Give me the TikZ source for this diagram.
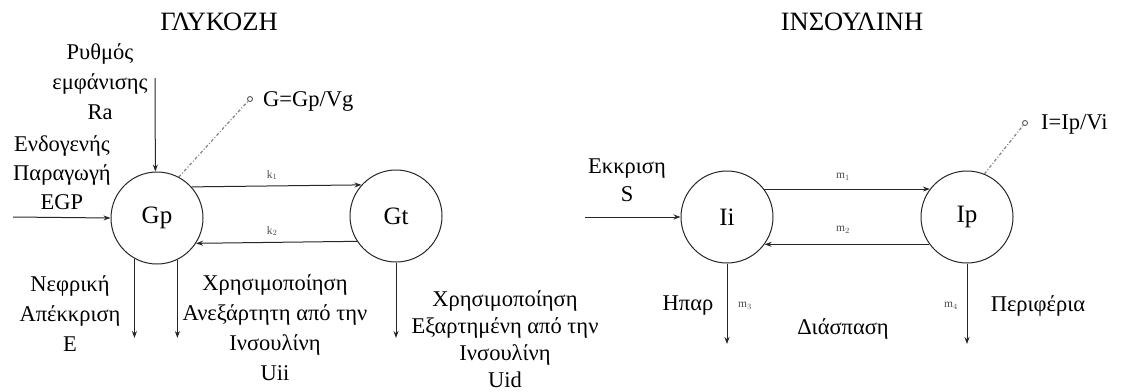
\documentclass[tikz,border=0pt]{standalone}
\usepackage{fontspec}
\setmainfont{Liberation Serif}
\usetikzlibrary{arrows.meta}
\tikzset{
  comp/.style={circle, draw=black!85, line width=1pt, minimum size=92pt, inner sep=0pt, font=\fontsize{25}{28}\selectfont},
  lbl/.style={align=center, inner sep=0pt, font=\fontsize{22.5}{30}\selectfont},
  lblb/.style={align=center, inner sep=0pt, font=\fontsize{22.5}{27}\selectfont},
  small/.style={inner sep=0pt, text=black!70, font=\fontsize{11.5}{12}\selectfont},
  flow/.style={line width=1pt, draw=black!85, -{Stealth[length=7pt,width=5pt]}},
  dflow/.style={line width=1.2pt, draw=black!50, dash pattern=on 3pt off 2pt on 1pt off 2pt},
  endc/.style={circle, draw=black!65, line width=0.9pt, minimum size=5pt, inner sep=0pt},
  title/.style={inner sep=0pt, font=\fontsize{26.5}{30}\selectfont}
}
\begin{document}
\begin{tikzpicture}[x=1pt,y=-1pt]
\useasboundingbox (0,0) rectangle (1121,391);
% titles
\node[title] (t1) at (219,22) {ΓΛΥΚΟΖΗ};
\node[title] (t2) at (852,22) {ΙΝΣΟΥΛΙΝΗ};
% compartments
\node[comp] (Gp) at (157,218) {Gp};
\node[comp] (Gt) at (396,216) {Gt};
\node[comp] (Ii) at (727,217) {Ii};
\node[comp] (Ip) at (967,217) {Ip};
% helper coordinates
\coordinate (bot) at (0,338);
\coordinate (botI) at (0,344);
\coordinate (egp) at (13,217);
\coordinate (ra) at (155,78);
\coordinate (sin) at (585,217);
% glucose exchange
\draw[flow] (Gp.42) -- (Gt.138);
\draw[flow] (Gt.213) -- (Gp.-33);
\node[small] (k1) at (272,175) {k$_1$};
\node[small] (k2) at (272,231) {k$_2$};
% insulin exchange
\draw[flow] (Ii.37) -- (Ip.143);
\draw[flow] (Ip.216) -- (Ii.-36);
\node[small] (m1) at (843,177) {m$_1$};
\node[small] (m2) at (843,230) {m$_2$};
% inputs
\draw[flow] (egp) -- (Gp.west);
\draw[flow] (ra) -- (Gp.92);
\draw[flow] (sin) -- (Ii.west);
% outputs
\draw[flow] (Gp.241) -- (Gp.241 |- bot);
\draw[flow] (Gp.296) -- (Gp.296 |- bot);
\draw[flow] (Gt.south) -- (Gt.south |- bot);
\draw[flow] (Ii.south) -- (Ii.south |- botI);
\draw[flow] (Ip.south) -- (Ip.south |- botI);
\node[small] (m3) at (745,306) {m$_3$};
\node[small] (m4) at (951,306) {m$_4$};
% concentration markers
\node[endc] (gm) at (250,99) {};
\draw[dflow] (Gp.62) -- (gm);
\node[lbl, anchor=west] (gl) at (263,101) {G=Gp/Vg};
\node[endc] (im) at (1025,123) {};
\draw[dflow] (Ip.68) -- (im);
\node[lbl, anchor=west] (il) at (1041,124) {I=Ip/Vi};
% text labels
\node[lbl] (rat) at (100,82) {Ρυθμός\\εμφάνισης\\Ra};
\node[lbl, font=\fontsize{22.5}{29}\selectfont] (egpt) at (62,173) {Ενδογενής\\Παραγωγή\\EGP};
\node[lbl] (et) at (70,314) {Νεφρική\\Απέκκριση\\E};
\node[lbl] (uiit) at (275,328) {Χρησιμοποίηση\\Ανεξάρτητη από την\\Ινσουλίνη\\Uii};
\node[lblb] (uidt) at (505,339) {Χρησιμοποίηση\\Εξαρτημένη από την\\Ινσουλίνη\\Uid};
\node[lbl, font=\fontsize{22.5}{28}\selectfont] (st) at (627,180) {Εκκριση\\S};
\node[lbl] (hp) at (688,306) {Ηπαρ};
\node[lbl] (per) at (1038,306) {Περιφέρια};
\node[lbl] (dia) at (843,329) {Διάσπαση};
\end{tikzpicture}
\end{document}
